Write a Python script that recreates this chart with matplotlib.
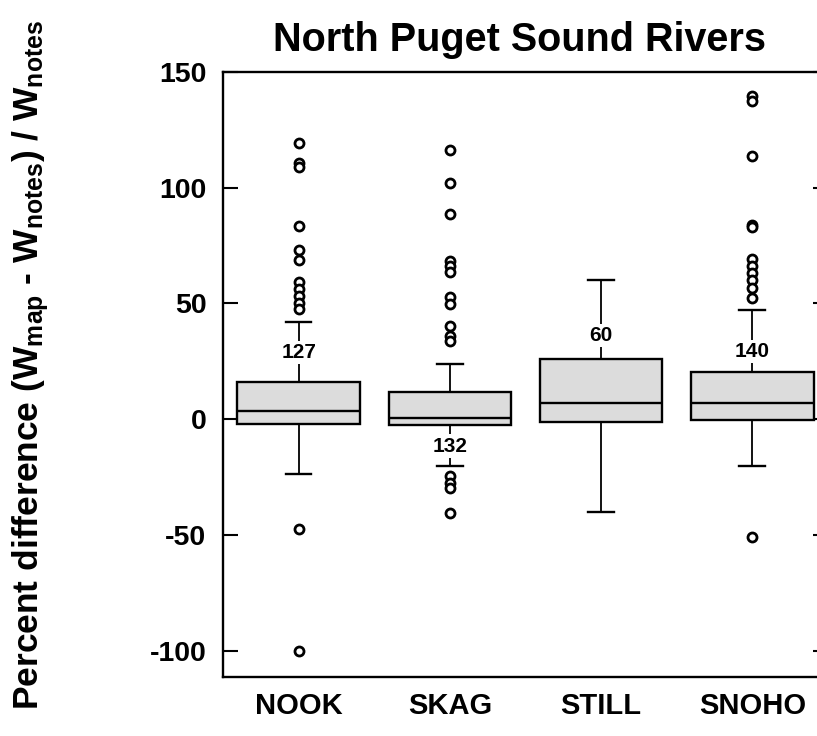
import numpy as np
import matplotlib
matplotlib.use('Agg')
import matplotlib.pyplot as plt

plt.rcParams['font.family'] = ['Liberation Sans', 'DejaVu Sans']
plt.rcParams['font.weight'] = 'bold'
plt.rcParams['mathtext.fontset'] = 'custom'
plt.rcParams['mathtext.rm'] = 'Liberation Sans:bold'
plt.rcParams['mathtext.default'] = 'rm'
plt.rcParams['axes.unicode_minus'] = False

# river groups and box statistics
rivers = ['NOOK', 'SKAG', 'STILL', 'SNOHO']
n_obs = [127, 132, 60, 140]
medians = [3.6, 0.7, 7.2, 7.2]
q1s = [-1.9, -2.6, -1.1, -0.3]
q3s = [16.1, 11.8, 25.9, 20.5]
whis_lo = [-23.7, -20.1, -40.0, -20.1]
whis_hi = [42.1, 23.7, 60.0, 47.4]
fliers_nook = [119.3, 110.6, 108.9, 83.3, 73.0, 68.7, 59.2, 56.3, 53.2, 50.3, 47.7, -47.1, -100.0]
fliers_skag = [116.4, 102.0, 88.4, 68.2, 66.1, 63.5, 52.9, 49.6, 40.2, 35.9, 33.8,
               -24.4, -27.3, -29.5, -40.2]
fliers_still = []
fliers_snoho = [139.4, 137.2, 113.5, 84.0, 83.0, 69.0, 66.1, 63.2, 60.3, 56.8, 52.5, -50.6]
# where the counts sit (above box, except SKAG below)
label_y = [29.0, -11.5, 36.2, 29.4]

fliers = [fliers_nook, fliers_skag, fliers_still, fliers_snoho]
stats = []
for i in range(len(rivers)):
    stats.append(dict(med=medians[i], q1=q1s[i], q3=q3s[i], whislo=whis_lo[i],
                      whishi=whis_hi[i], fliers=fliers[i], label=rivers[i]))

fig = plt.figure(figsize=(8.17, 7.36), dpi=100)
ax = fig.add_axes([0.2729, 0.0806, 0.7405, 0.822])

pos = np.arange(1, len(rivers) + 1)
ax.bxp(stats, positions=pos, widths=0.81, capwidths=0.17, patch_artist=True,
       boxprops=dict(facecolor='#dcdcdc', edgecolor='black', linewidth=1.7),
       medianprops=dict(color='black', linewidth=1.7),
       whiskerprops=dict(color='black', linewidth=1.3),
       capprops=dict(color='black', linewidth=1.7),
       flierprops=dict(marker='o', markerfacecolor='white', markeredgecolor='black',
                       markersize=6.5, markeredgewidth=2))

for i in range(len(rivers)):
    ax.text(pos[i], label_y[i], str(n_obs[i]), ha='center', va='center', fontsize=15,
            fontweight='bold', zorder=5,
            bbox=dict(facecolor='white', edgecolor='none', pad=1.5))

ax.set_xlim(0.5, 4.5)
ax.set_ylim(-111, 150)
ax.set_yticks([-100, -50, 0, 50, 100, 150])
ax.set_xticks(pos)
ax.set_xticklabels(rivers)
ax.tick_params(axis='x', length=0, pad=11, labelsize=21)
ax.tick_params(axis='y', direction='in', length=11, width=1.5, right=True,
               labelsize=20.5, pad=12)
for s in ax.spines.values():
    s.set_linewidth(1.7)

ax.set_title('North Puget Sound Rivers', fontsize=28.5, fontweight='bold', pad=15, x=0.49)
fig.text(0.038, 0.504,
         r'Percent difference (W$_{map}$ - W$_{notes}$) / W$_{notes}$',
         rotation=90, ha='center', va='center', fontsize=25.5, fontweight='bold')

fig.savefig('out.png', dpi=100)
